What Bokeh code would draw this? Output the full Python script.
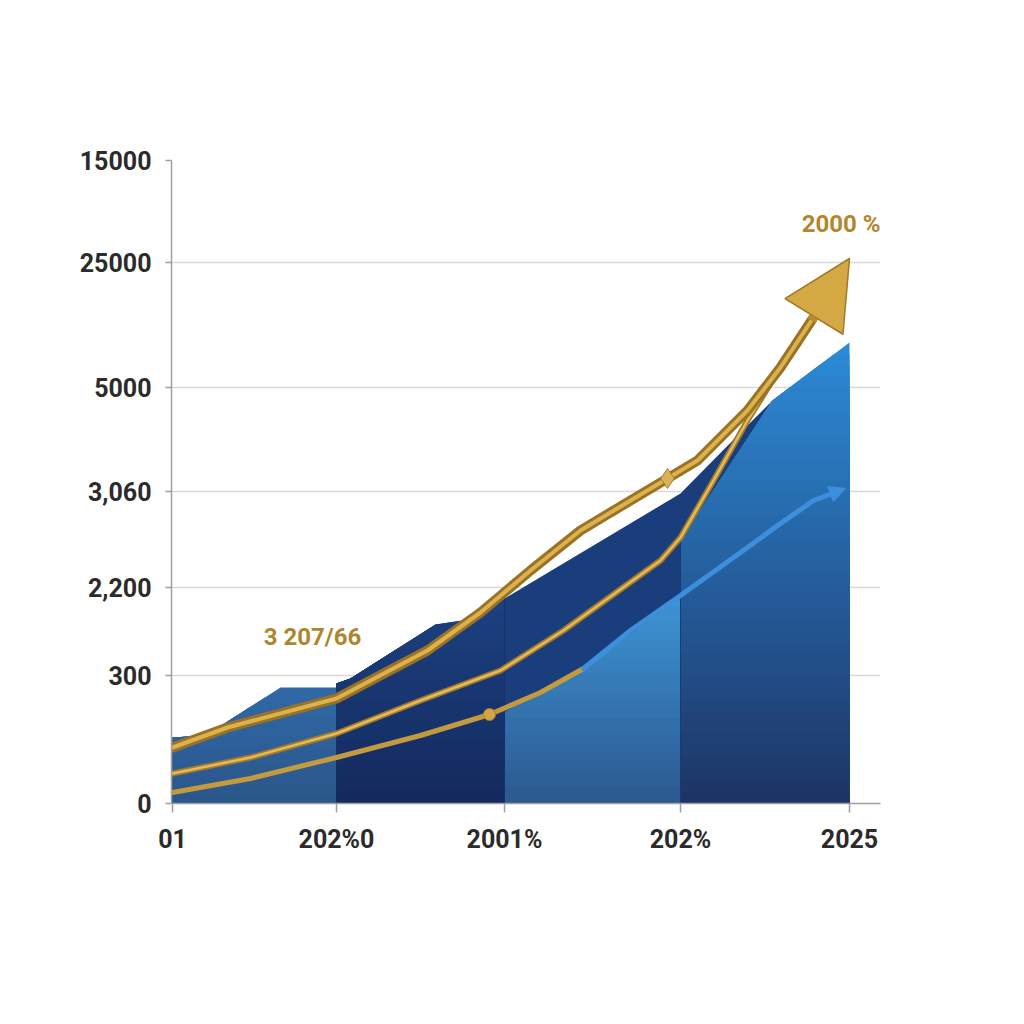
from bokeh.plotting import figure
from bokeh.models import Range1d, FixedTicker, Arrow, NormalHead, Label
from bokeh.embed import file_html
from bokeh.resources import INLINE

# ---- axis ticks (chart units) and their printed labels ----
y_ticks = [0, 128, 216, 312, 416, 541, 643]
y_labels = ["0", "300", "2,200", "3,060", "5000", "25000", "15000"]
x_ticks = [1, 165, 333, 509, 678]
x_labels = ["01", "202%0", "2001%", "202%", "2025"]

# ---- area segments (top edges; each area fills down to 0) ----
seg1_top_x = [1, 34, 109, 165]
seg1_top_y = [66, 68, 116, 116]
seg2_top_x = [165, 179, 264, 291, 333]
seg2_top_y = [120, 125, 179, 183, 205]
seg3_dark_x = [333, 333, 509, 574, 601, 509, 509]
seg3_dark_y = [0, 205, 310, 376, 403, 263, 0]
seg3_light_top_x = [333, 412, 509]
seg3_light_top_y = [91, 135, 206]
seg4_top_x = [509, 601, 678]
seg4_top_y = [263, 403, 461]

# ---- lines ----
upper_x = [1, 56, 165, 256, 309, 359, 409, 449, 496, 526, 576, 609, 640]
upper_y = [56, 76, 105, 153, 191, 233, 273, 297, 325, 343, 393, 436, 483]
upper_tip = (678, 545)
middle_x = [1, 79, 165, 249, 329, 392, 489, 509, 542, 576, 604, 629]
middle_y = [30, 46, 70, 103, 133, 173, 243, 266, 323, 383, 428, 463]
lower_x = [1, 79, 165, 249, 318, 369, 412]
lower_y = [11, 25, 46, 68, 89, 111, 135]
blue_x = [412, 459, 509, 576, 609, 642]
blue_y = [135, 173, 208, 256, 280, 303]
blue_tip = (674, 315)
diamond_pt = (496, 325)
circle_pt = (318, 89)

ann1 = "3 207/66"
ann1_pos = (141, 167)
ann2 = "2000 %"
ann2_pos = (709, 580)


def hexrgb(h):
    return tuple(int(h[i:i + 2], 16) for i in (1, 3, 5))


def mix(c0, c1, t):
    a, b = hexrgb(c0), hexrgb(c1)
    return "#%02x%02x%02x" % tuple(round(a[i] + (b[i] - a[i]) * t) for i in range(3))


def capped(tx, ty, cap):
    """Top edge capped at y=cap, returned as closed polygon down to 0."""
    xs, ys = [], []
    for i in range(len(tx)):
        if i > 0:
            y0, y1 = ty[i - 1], ty[i]
            if (y0 - cap) * (y1 - cap) < 0:
                t = (cap - y0) / (y1 - y0)
                xs.append(tx[i - 1] + t * (tx[i] - tx[i - 1]))
                ys.append(cap)
        xs.append(tx[i])
        ys.append(min(ty[i], cap))
    return [tx[0]] + xs + [tx[-1]], [0] + ys + [0]


def gradient_area(p, tx, ty, c_bottom, c_top, n=40):
    top = max(ty)
    for k in range(n, 0, -1):
        cap = top * k / n
        px, py = capped(tx, ty, cap)
        p.patch(px, py, fill_color=mix(c_bottom, c_top, k / n), line_color=None)


p = figure(width=1024, height=1024, x_range=Range1d(0, 709), y_range=Range1d(0, 643),
           output_backend="svg", toolbar_location=None,
           min_border_left=171, min_border_right=144, min_border_top=160, min_border_bottom=221)
p.outline_line_color = None
p.background_fill_color = "white"
p.border_fill_color = "white"

p.xgrid.visible = False
p.ygrid.ticker = FixedTicker(ticks=y_ticks)
p.ygrid.grid_line_color = "#d9d9d9"
p.ygrid.grid_line_width = 1.5

for ax, ticks, labels in ((p.yaxis[0], y_ticks, y_labels), (p.xaxis[0], x_ticks, x_labels)):
    ax.ticker = FixedTicker(ticks=ticks)
    ax.major_label_overrides = {t: l for t, l in zip(ticks, labels)}
    ax.minor_tick_line_color = None
    ax.axis_line_color = "#9e9e9e"
    ax.axis_line_width = 1.5
    ax.major_tick_line_color = "#9e9e9e"
    ax.major_tick_line_width = 1.5
    ax.major_tick_in = 0
    ax.major_label_text_font = "Roboto"
    ax.major_label_text_font_style = "bold"
    ax.major_label_text_font_size = "25px"
    ax.major_label_text_color = "#2b2b2b"

p.yaxis.major_tick_out = 6
p.yaxis.major_label_standoff = 14
p.xaxis.major_tick_out = 9
p.xaxis.major_label_standoff = 12

# areas
gradient_area(p, seg1_top_x, seg1_top_y, "#2a5588", "#3068a6", n=12)
gradient_area(p, seg2_top_x, seg2_top_y, "#13295c", "#1c4080", n=16)
p.patch(seg3_dark_x, seg3_dark_y, fill_color="#1a3d7c", line_color=None)
gradient_area(p, seg3_light_top_x, seg3_light_top_y, "#2b568c", "#3d93d4", n=24)
gradient_area(p, seg4_top_x, seg4_top_y, "#1d3363", "#2c8ad6", n=40)
p.line([509, 509], [0, 263], line_color="#173a78", line_width=1)
p.line([333, 333], [0, 205], line_color="#14306a", line_width=1)

# lower gold + blue
p.line(lower_x, lower_y, line_color="#c49a3e", line_width=5, line_join="round", line_cap="round")
p.line(blue_x, blue_y, line_color="#3d8fdb", line_width=5, line_join="round", line_cap="round")
p.add_layout(Arrow(end=NormalHead(size=16, fill_color="#3d8fdb", line_color="#3d8fdb"),
                   x_start=blue_x[-1], y_start=blue_y[-1], x_end=blue_tip[0], y_end=blue_tip[1],
                   line_color="#3d8fdb", line_width=5))
p.scatter([circle_pt[0]], [circle_pt[1]], size=12, marker="circle", fill_color="#d1a647", line_color="#a87f2c")

# middle gold
p.line(middle_x, middle_y, line_color="#a47a2a", line_width=6, line_join="round", line_cap="round")
p.line(middle_x, middle_y, line_color="#e2bc5c", line_width=2.5, line_join="round", line_cap="round")

# upper gold
p.line(upper_x, upper_y, line_color="#9a7226", line_width=10, line_join="round", line_cap="round")
p.line(upper_x, upper_y, line_color="#dcb24f", line_width=4, line_join="round", line_cap="round")
p.add_layout(Arrow(end=NormalHead(size=68, fill_color="#d4a843", line_color="#a07828", line_width=1.5),
                   x_start=upper_x[-1], y_start=upper_y[-1], x_end=upper_tip[0], y_end=upper_tip[1],
                   line_color="#b8892f", line_width=10))
p.scatter([diamond_pt[0]], [diamond_pt[1]], size=20, marker="diamond", fill_color="#d9b258", line_color="#a87f2c")

p.add_layout(Label(x=ann1_pos[0], y=ann1_pos[1], text=ann1, text_align="center", text_baseline="middle",
                   text_font="Roboto", text_font_style="bold", text_font_size="24px", text_color="#ad8630"))
p.add_layout(Label(x=ann2_pos[0], y=ann2_pos[1], text=ann2, text_align="right", text_baseline="middle",
                   text_font="Roboto", text_font_style="bold", text_font_size="24px", text_color="#b0872c"))

open("out.html", "w").write(file_html(p, INLINE))
